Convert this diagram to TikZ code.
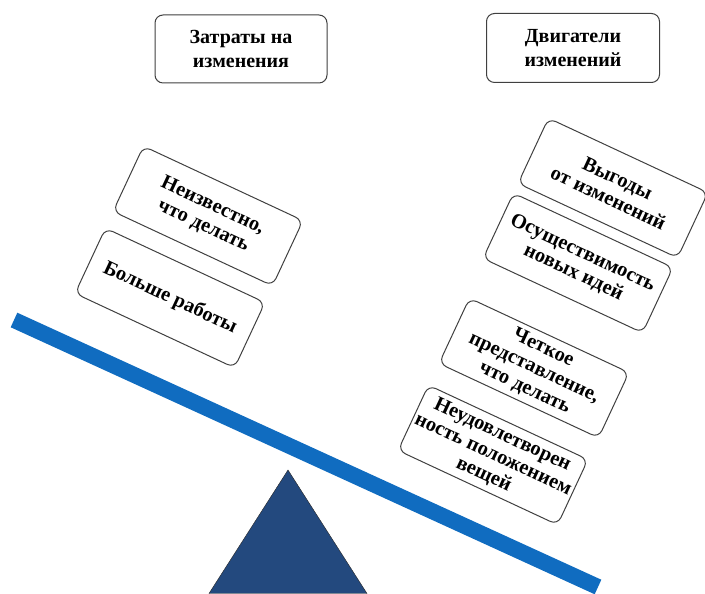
\documentclass[tikz,border=0pt]{standalone}
\usepackage{fontspec}
\setmainfont{Liberation Serif}

\definecolor{beamblue}{RGB}{16,108,192}
\definecolor{pivotblue}{RGB}{35,73,126}

\begin{document}
\begin{tikzpicture}[x=1pt,y=1pt,
    card/.style={draw=black!75,line width=1pt,rounded corners=8pt,fill=white,
      align=center,inner sep=2pt,font=\fontsize{20}{24}\selectfont\bfseries},
    tilted/.style={card,rotate=\tilt,minimum width=176,minimum height=72,
      font=\fontsize{20.5}{22}\selectfont\bfseries}]
  \def\tilt{-25}   % slope of the cards on both pans
  \useasboundingbox (0,0) rectangle (705,594);

  % beam and pivot
  \coordinate (beamL) at (14,274);
  \coordinate (beamR) at (598,7);
  \draw[line width=16pt,beamblue] (beamL) -- (beamR);
  \filldraw[fill=pivotblue,draw=black!85,thin] (209,0.5) -- (288,124) -- (367,0.5) -- cycle;

  % headings
  \node[card,minimum width=172,minimum height=68] (costs) at (241,545) {Затраты на\\изменения};
  \node[card,minimum width=173,minimum height=69] (drivers) at (573,546) {Двигатели\\изменений};

  % costs of change (left pan)
  \foreach \nm/\px/\py/\txt in {%
      unknown/208/378/{Неизвестно,\\что делать},
      work/170/296/{Больше работы}}{
    \node[tilted] (\nm) at (\px,\py) {\txt};
  }

  % drivers of change (right pan)
  \foreach \nm/\px/\py/\txt in {%
      benefit/613/406/{Выгоды\\от изменений},
      ideas/578/331/{Осуществимость\\новых идей},
      vision/534/226/{Четкое\\представление,\\что делать},
      discontent/493/139/{Неудовлетворен\\ность положением\\вещей}}{
    \node[tilted] (\nm) at (\px,\py) {\txt};
  }
\end{tikzpicture}
\end{document}
